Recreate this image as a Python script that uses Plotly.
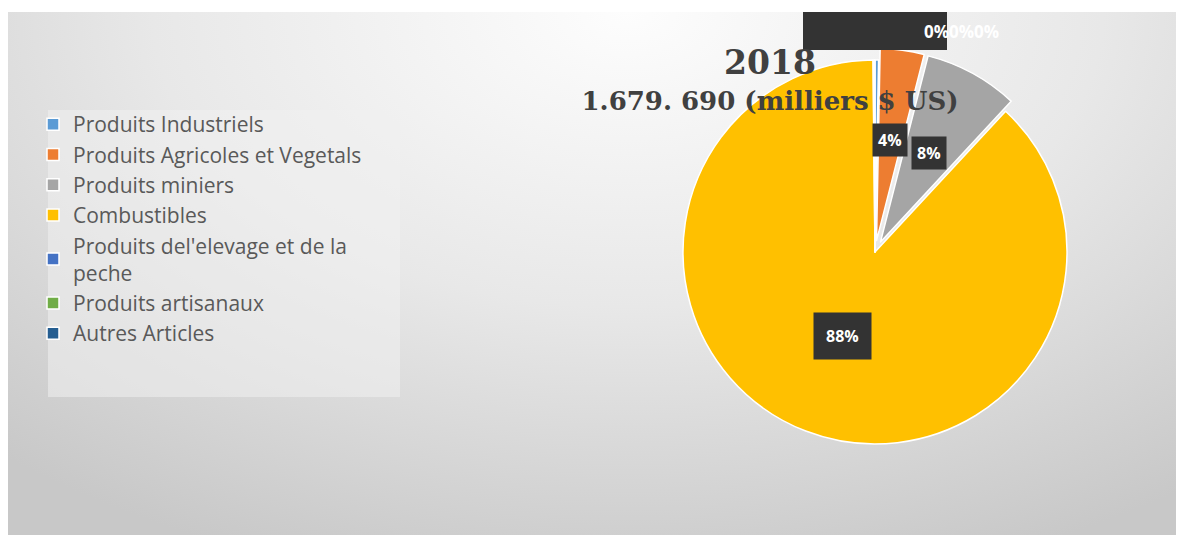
import math, base64
import plotly.graph_objects as go

# ---- data ----
categories = ["Produits Industriels", "Produits Agricoles et Vegetals", "Produits miniers",
              "Combustibles", "Produits del'elevage et de la<br>peche", "Produits artisanaux",
              "Autres Articles"]
values = [5000, 62000, 133000, 1477000, 1500, 200, 990]   # milliers $ US
colors = ["#5B9BD5", "#ED7D31", "#A5A5A5", "#FFC000", "#4472C4", "#70AD47", "#255E91"]
pulls = [0, 0.06, 0.06, 0, 0, 0, 0]
year = "2018"
total_label = "1.679. 690 (milliers $ US)"

# page body has an 8px margin; figure coordinates below are page coordinates minus 8
W, H = 1176, 527
cx_px, cy_px, R = 867, 244, 192
maxpull = max(pulls)
half = R * (1 + maxpull)
dom_x = [(cx_px - half) / W, (cx_px + half) / W]
dom_y = [1 - (cy_px + half) / H, 1 - (cy_px - half) / H]

fig = go.Figure(go.Pie(
    labels=categories, values=values, sort=False, direction="clockwise", rotation=0,
    marker=dict(colors=colors, line=dict(color="white", width=1.5)),
    pull=pulls, textinfo="none", hoverinfo="none",
    domain=dict(x=dom_x, y=dom_y),
))

# background gradient
BW, BH = W, H - 4
svg = f"""<svg xmlns='http://www.w3.org/2000/svg' width='{BW}' height='{BH}' viewBox='0 0 {BW} {BH}' preserveAspectRatio='none'>
<defs><radialGradient id='g' gradientUnits='userSpaceOnUse' cx='620' cy='0' r='950' gradientTransform='translate(620 0) scale(1 0.62) translate(-620 0)'>
<stop offset='0' stop-color='#fdfdfd'/><stop offset='0.5' stop-color='#e8e8e8'/><stop offset='1' stop-color='#c8c8c8'/></radialGradient></defs>
<rect width='{BW}' height='{BH}' fill='url(#g)'/></svg>"""
src = "data:image/svg+xml;base64," + base64.b64encode(svg.encode()).decode()

layout_images = [dict(source=src, xref="paper", yref="paper", x=0, y=1 - 4 / H,
                      sizex=1, sizey=BH / H, xanchor="left", yanchor="top",
                      sizing="stretch", layer="below")]

# percentage labels
total = sum(values)
annotations = []
cum = 0
tiny_labels = []
for v, p in zip(values, pulls):
    frac = v / total
    mid = (cum + frac / 2) * 2 * math.pi
    cum += frac
    pct = round(frac * 100)
    if pct == 0:
        tiny_labels.append(f"{pct}%")
        continue
    rr = R * (0.47 + p + (0.06 if p else 0))
    px = cx_px + rr * math.sin(mid)
    py = cy_px - rr * math.cos(mid)
    big = frac > 0.5
    annotations.append(dict(x=px / W, y=1 - py / H, xref="paper", yref="paper",
                            xanchor="center", yanchor="middle",
                            text=f"<b>{pct}%</b>", showarrow=False,
                            font=dict(family="Open Sans", size=16, color="white"),
                            bgcolor="#333333", borderpad=12 if big else 5))

annotations.append(dict(x=(cx_px + 86) / W, y=1 - 24 / H, xref="paper", yref="paper",
                        xanchor="center", yanchor="middle",
                        text="<b>" + "".join(tiny_labels[:3]) + "</b>", showarrow=False,
                        font=dict(family="Open Sans", size=17, color="white")))

shapes = [
    dict(type="rect", xref="paper", yref="paper", x0=40 / W, x1=392 / W,
         y0=1 - 389 / H, y1=1 - 102 / H, fillcolor="rgba(240,240,240,0.55)",
         line=dict(width=0), layer="below"),
    dict(type="rect", xref="paper", yref="paper", x0=795 / W, x1=939 / W,
         y0=1 - 42 / H, y1=1 - 4 / H, fillcolor="#333333", line=dict(width=0), layer="above"),
]

fig.update_layout(
    width=W, height=H, margin=dict(l=0, r=0, t=0, b=0),
    paper_bgcolor="white", plot_bgcolor="rgba(0,0,0,0)",
    title=dict(text=f"<span style='font-size:33px'><b>{year}</b></span><br>"
                    f"<span style='font-size:26px'><b>{total_label}</b></span>",
               x=762 / W, xanchor="center", y=1 - 66 / H, yanchor="top",
               font=dict(family="DejaVu Serif", size=28, color="#404040")),
    legend=dict(x=25 / W, y=1 - 96 / H, xanchor="left", yanchor="top",
                bgcolor="rgba(0,0,0,0)", font=dict(family="Open Sans", size=21, color="#595959"),
                traceorder="normal", valign="middle"),
    images=layout_images, annotations=annotations, shapes=shapes,
)
fig.write_html("out.html")
